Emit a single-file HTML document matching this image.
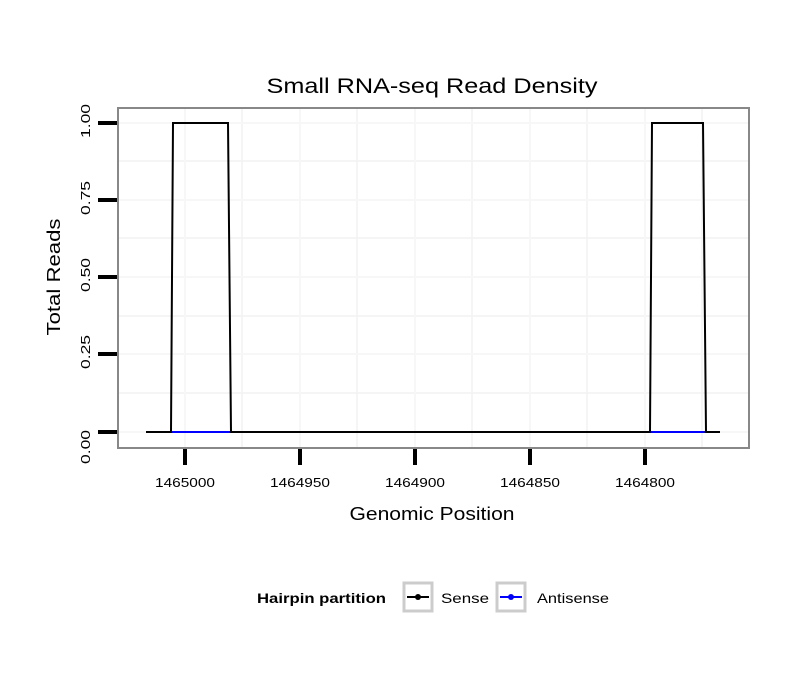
<!DOCTYPE html>
<html><head><style>body{margin:0;background:#fff}</style></head><body>
<svg width="810" height="690" xmlns="http://www.w3.org/2000/svg" font-family="Liberation Sans, sans-serif">
<rect width="810" height="690" fill="#fff"/>
<g stroke="#f2f2f2" stroke-width="1.5">
<line x1="242" y1="108" x2="242" y2="448"/><line x1="357" y1="108" x2="357" y2="448"/><line x1="472" y1="108" x2="472" y2="448"/><line x1="587" y1="108" x2="587" y2="448"/><line x1="702" y1="108" x2="702" y2="448"/>
<line x1="118" y1="161" x2="749" y2="161"/><line x1="118" y1="238" x2="749" y2="238"/><line x1="118" y1="316" x2="749" y2="316"/><line x1="118" y1="393" x2="749" y2="393"/>
</g>
<g stroke="#f7f7f7" stroke-width="2">
<line x1="185" y1="108" x2="185" y2="448"/><line x1="300" y1="108" x2="300" y2="448"/><line x1="415" y1="108" x2="415" y2="448"/><line x1="530" y1="108" x2="530" y2="448"/><line x1="645" y1="108" x2="645" y2="448"/>
<line x1="118" y1="123" x2="749" y2="123"/><line x1="118" y1="200" x2="749" y2="200"/><line x1="118" y1="277" x2="749" y2="277"/><line x1="118" y1="354" x2="749" y2="354"/><line x1="118" y1="432" x2="749" y2="432"/>
</g>
<polyline fill="none" stroke="#000" stroke-width="2" points="146,432 171,432 173,123 228,123 231,432 650,432 652,123 703,123 706,432 720,432"/>
<line x1="172" y1="432" x2="230" y2="432" stroke="#00f" stroke-width="2"/>
<line x1="651" y1="432" x2="705" y2="432" stroke="#00f" stroke-width="2"/>
<rect x="118" y="108" width="631" height="340" fill="none" stroke="#888" stroke-width="2"/>
<g stroke="#000" stroke-width="4">
<line x1="98" y1="123" x2="117" y2="123"/><line x1="98" y1="200" x2="117" y2="200"/><line x1="98" y1="277" x2="117" y2="277"/><line x1="98" y1="354" x2="117" y2="354"/><line x1="98" y1="432" x2="117" y2="432"/>
<line x1="185" y1="449" x2="185" y2="465"/><line x1="300" y1="449" x2="300" y2="465"/><line x1="415" y1="449" x2="415" y2="465"/><line x1="530" y1="449" x2="530" y2="465"/><line x1="645" y1="449" x2="645" y2="465"/>
</g>
<g font-size="13" fill="#000" text-anchor="middle">
<text transform="translate(90,121) rotate(-90)" textLength="34" lengthAdjust="spacingAndGlyphs">1.00</text>
<text transform="translate(90,198) rotate(-90)" textLength="34" lengthAdjust="spacingAndGlyphs">0.75</text>
<text transform="translate(90,275) rotate(-90)" textLength="34" lengthAdjust="spacingAndGlyphs">0.50</text>
<text transform="translate(90,352) rotate(-90)" textLength="34" lengthAdjust="spacingAndGlyphs">0.25</text>
<text transform="translate(90,447) rotate(-90)" textLength="34" lengthAdjust="spacingAndGlyphs">0.00</text>
<text x="185" y="487" textLength="60" lengthAdjust="spacingAndGlyphs">1465000</text><text x="300" y="487" textLength="60" lengthAdjust="spacingAndGlyphs">1464950</text><text x="415" y="487" textLength="60" lengthAdjust="spacingAndGlyphs">1464900</text><text x="530" y="487" textLength="60" lengthAdjust="spacingAndGlyphs">1464850</text><text x="645" y="487" textLength="60" lengthAdjust="spacingAndGlyphs">1464800</text>
</g>
<text x="432" y="93" font-size="21" text-anchor="middle" textLength="331" lengthAdjust="spacingAndGlyphs">Small RNA-seq Read Density</text>
<text x="432" y="520" font-size="18" text-anchor="middle" textLength="165" lengthAdjust="spacingAndGlyphs">Genomic Position</text>
<text transform="translate(60,277) rotate(-90)" font-size="18" text-anchor="middle" textLength="117" lengthAdjust="spacingAndGlyphs">Total Reads</text>
<text x="257" y="603" font-size="14" font-weight="bold" textLength="129" lengthAdjust="spacingAndGlyphs">Hairpin partition</text>
<rect x="404" y="583" width="28" height="28" fill="#fff" stroke="#ccc" stroke-width="3"/>
<line x1="407" y1="597" x2="429" y2="597" stroke="#000" stroke-width="2"/><circle cx="418" cy="597" r="3" fill="#000"/>
<text x="441" y="603" font-size="14" textLength="48" lengthAdjust="spacingAndGlyphs">Sense</text>
<rect x="497" y="583" width="28" height="28" fill="#fff" stroke="#ccc" stroke-width="3"/>
<line x1="500" y1="597" x2="522" y2="597" stroke="#00f" stroke-width="2"/><circle cx="511" cy="597" r="3" fill="#00f"/>
<text x="537" y="603" font-size="14" textLength="72" lengthAdjust="spacingAndGlyphs">Antisense</text>
</svg>
</body></html>
